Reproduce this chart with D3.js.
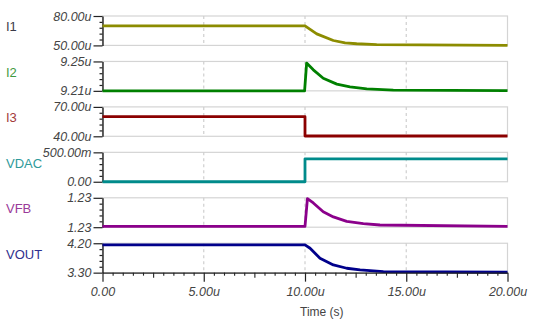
<!DOCTYPE html>
<html>
<head>
<meta charset="utf-8">
<script src="https://cdn.jsdelivr.net/npm/d3@7"></script>
<style>
  html, body { margin: 0; padding: 0; background: #fff; }
  svg { display: block; }
</style>
</head>
<body>
<svg id="chart" width="544" height="333"></svg>
<script>
// Signal names, one panel each
const signals = ["I1", "I2", "I3", "VDAC", "VFB", "VOUT"];
const traceColors = ["#8c8c00", "#008000", "#8b0000", "#008b8b", "#8b008b", "#00008b"];
const nameColors = ["#3a3a48", "#3f9a3f", "#a33a3a", "#2f9a9a", "#9a3a9a", "#30308e"];

// Vertical range of each panel [bottom, top] and its printed tick labels
const yDomains = [[50, 80], [9.21, 9.25], [40, 70], [0, 0.5], [1.2300, 1.2340], [3.30, 4.20]];
const yTickLabels = [["50.00u", "80.00u"], ["9.21u", "9.25u"], ["40.00u", "70.00u"],
                     ["0.00", "500.00m"], ["1.23", "1.23"], ["3.30", "4.20"]];

// Time axis (µs)
const timeTicks = [0, 5, 10, 15, 20];
const timeTickLabels = ["0.00", "5.00u", "10.00u", "15.00u", "20.00u"];

// Waveforms: sample times (µs) and values
const i1Time = [0, 10.0, 10.58, 11.4, 11.98, 12.55, 13.54, 20];
const i1Val  = [70.0, 70.0, 61.8, 55.0, 52.6, 51.7, 50.7, 50.1];

const i2Time = [0, 9.98, 10.08, 10.41, 10.9, 11.57, 12.22, 13.05, 14.36, 20];
const i2Val  = [9.2100, 9.2100, 9.2478, 9.2386, 9.2271, 9.2192, 9.2155, 9.2128, 9.2110, 9.2103];

const i3Time = [0, 10.0, 10.0, 20];
const i3Val  = [60, 60, 40.3, 40.3];

const vdacTime = [0, 10.0, 10.0, 20];
const vdacVal  = [0.0, 0.0, 0.39, 0.39];

const vfbTime = [0, 10.0, 10.12, 10.41, 10.9, 11.4, 12.06, 12.88, 13.7, 20];
const vfbVal  = [1.2301, 1.2301, 1.2339, 1.2333, 1.2321, 1.2314, 1.2308, 1.2305, 1.2303, 1.2301];

const voutTime = [0, 10.0, 10.25, 10.74, 11.4, 12.06, 12.72, 13.87, 20];
const voutVal  = [4.15, 4.15, 4.047, 3.741, 3.536, 3.435, 3.383, 3.331, 3.312];

const seriesTimes = [i1Time, i2Time, i3Time, vdacTime, vfbTime, voutTime];
const seriesVals  = [i1Val, i2Val, i3Val, vdacVal, vfbVal, voutVal];

const svg = d3.select("#chart");
const left = 102.5, right = 507.5;
const firstTop = 16, pitch = 45.45, panelH = 29.4;

const x = d3.scaleLinear().domain([0, 20]).range([left, right]);

const font = "'Liberation Sans', Arial, sans-serif";

signals.forEach((name, i) => {
  const top = firstTop + i * pitch;
  const bottom = top + panelH;
  const y = d3.scaleLinear().domain(yDomains[i]).range([bottom, top]);
  const g = svg.append("g");

  // panel frame (light grey)
  g.append("rect")
    .attr("x", left).attr("y", top)
    .attr("width", right - left).attr("height", panelH)
    .attr("fill", "none").attr("stroke", "#d4d4d4").attr("stroke-width", 1.2);

  // dashed time gridlines
  g.selectAll("line.grid").data([5, 10, 15]).enter().append("line")
    .attr("x1", d => x(d)).attr("x2", d => x(d))
    .attr("y1", top).attr("y2", bottom)
    .attr("stroke", "#cfcfcf").attr("stroke-width", 1.2)
    .attr("stroke-dasharray", "3,3");

  // minor ticks on the value axis
  const [lo, hi] = yDomains[i];
  const minor = d3.range(1, 5).map(k => lo + (hi - lo) * k / 5);
  g.append("g")
    .attr("transform", `translate(${left},0)`)
    .call(d3.axisLeft(y).tickValues(minor).tickSize(3).tickSizeOuter(0).tickFormat(""))
    .call(a => a.select(".domain").remove())
    .call(a => a.selectAll("line").attr("stroke", "#222").attr("stroke-width", 1.2));

  // major ticks with labels
  const yAxis = g.append("g")
    .attr("transform", `translate(${left},0)`)
    .call(d3.axisLeft(y).tickValues(yDomains[i]).tickSize(9).tickSizeOuter(0)
      .tickFormat((d, k) => yTickLabels[i][k]));
  yAxis.select(".domain").attr("stroke", "#222").attr("stroke-width", 1.4);
  yAxis.selectAll("line").attr("stroke", "#222").attr("stroke-width", 1.2);
  yAxis.selectAll("text")
    .attr("x", -11)
    .attr("fill", "#444")
    .style("font-family", font)
    .style("font-size", "12.5px")
    .style("font-style", "italic");

  // trace
  const pts = seriesTimes[i].map((t, k) => [t, seriesVals[i][k]]);
  g.append("path")
    .datum(pts)
    .attr("fill", "none")
    .attr("stroke", traceColors[i])
    .attr("stroke-width", 2.8)
    .attr("stroke-linejoin", "round")
    .attr("d", d3.line().x(d => x(d[0])).y(d => y(d[1])));

  // signal name
  g.append("text")
    .attr("x", 6).attr("y", top + panelH / 2 - 4)
    .attr("dy", "0.35em")
    .attr("fill", nameColors[i])
    .style("font-family", font)
    .style("font-size", "13px")
    .text(name);
});

// time axis under the last panel
const axisY = firstTop + 5 * pitch + panelH;
const xg = svg.append("g").attr("transform", `translate(0,${axisY})`);

xg.append("g")
  .call(d3.axisBottom(x).tickValues(d3.range(0, 20.01, 0.5).filter(v => v % 2.5 !== 0))
    .tickSize(3).tickSizeOuter(0).tickFormat(""))
  .call(a => a.select(".domain").remove())
  .call(a => a.selectAll("line").attr("stroke", "#222").attr("stroke-width", 1.1));

xg.append("g")
  .call(d3.axisBottom(x).tickValues([2.5, 7.5, 12.5, 17.5]).tickSize(5).tickSizeOuter(0).tickFormat(""))
  .call(a => a.select(".domain").remove())
  .call(a => a.selectAll("line").attr("stroke", "#222").attr("stroke-width", 1.1));

const xAxis = xg.append("g")
  .call(d3.axisBottom(x).tickValues(timeTicks).tickSize(9).tickSizeOuter(0)
    .tickFormat((d, k) => timeTickLabels[k]));
xAxis.select(".domain").attr("stroke", "#222").attr("stroke-width", 1.4);
xAxis.selectAll("line").attr("stroke", "#222").attr("stroke-width", 1.2);
xAxis.selectAll("text")
  .attr("y", 14)
  .attr("fill", "#444")
  .style("font-family", font)
  .style("font-size", "12.5px")
  .style("font-style", "italic");

svg.append("text")
  .attr("x", x(10) - 5).attr("y", axisY + 43)
  .attr("fill", "#444")
  .style("font-family", font)
  .style("font-size", "12px")
  .text("Time (s)");
</script>
</body>
</html>
